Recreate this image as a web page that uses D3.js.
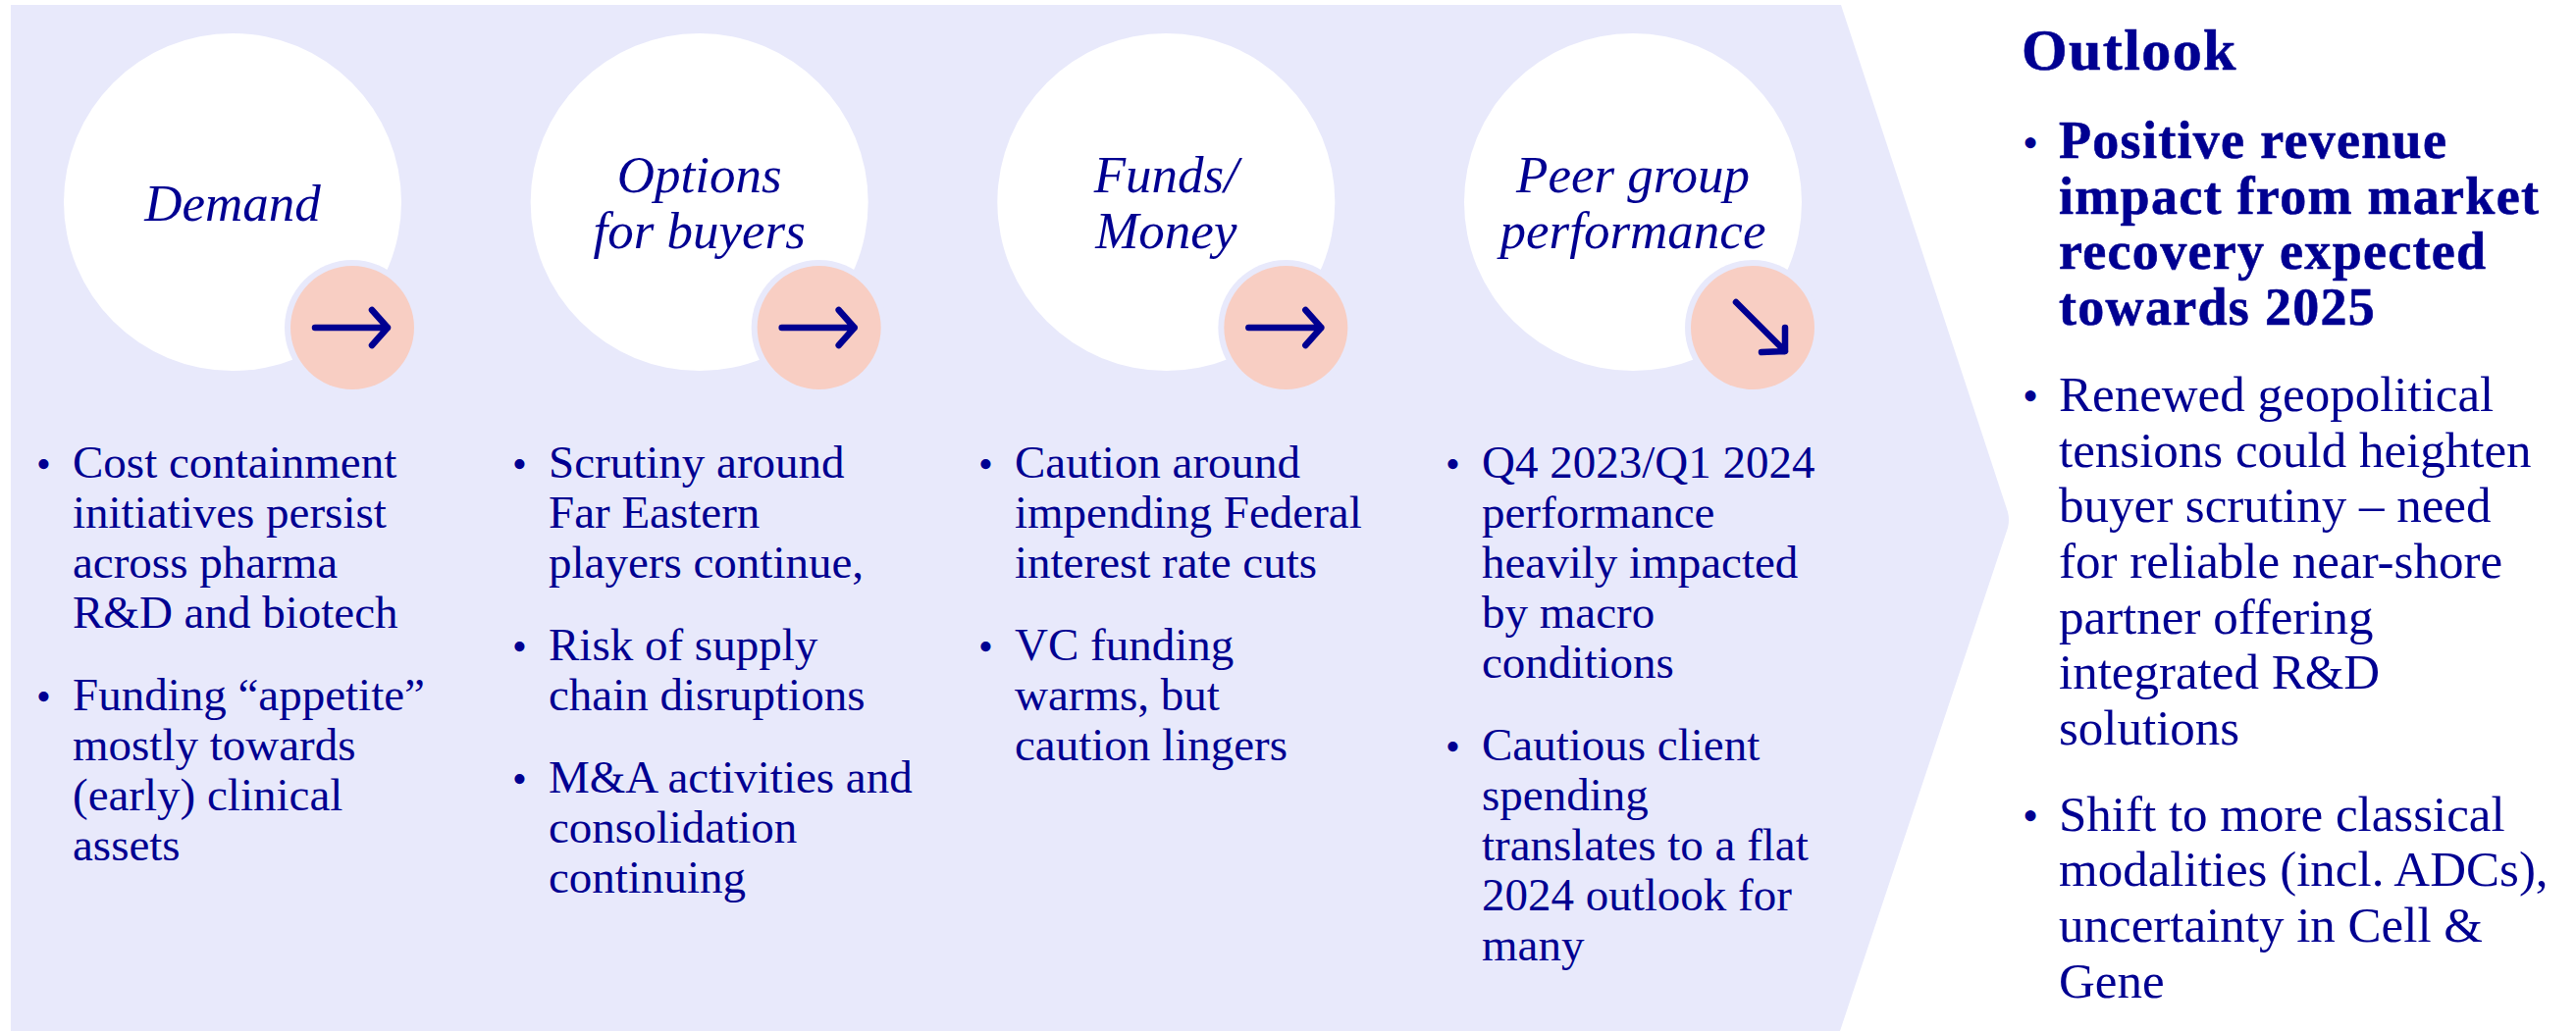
<!DOCTYPE html>
<html>
<head>
<meta charset="utf-8">
<script src="https://cdn.jsdelivr.net/npm/d3@7"></script>
<style>
 body { margin: 0; background: #fff; }
 svg { display: block; }
 text { font-family: "Liberation Serif", serif; fill: #000091; }
</style>
</head>
<body>
<div id="chart"></div>
<script type="text/javascript">
 var categories = ["Demand", "Options|for buyers", "Funds/|Money", "Peer group|performance"];
 var trends = ["flat", "flat", "flat", "down"];
 var columnBullets = [
   [["Cost containment", "initiatives persist", "across pharma", "R&D and biotech"],
    ["Funding “appetite”", "mostly towards", "(early) clinical", "assets"]],
   [["Scrutiny around", "Far Eastern", "players continue,"],
    ["Risk of supply", "chain disruptions"],
    ["M&A activities and", "consolidation", "continuing"]],
   [["Caution around", "impending Federal", "interest rate cuts"],
    ["VC funding", "warms, but", "caution lingers"]],
   [["Q4 2023/Q1 2024", "performance", "heavily impacted", "by macro", "conditions"],
    ["Cautious client", "spending", "translates to a flat", "2024 outlook for", "many"]]
 ];
 var outlookTitle = "Outlook";
 var outlookBullets = [
   ["Positive revenue", "impact from market", "recovery expected", "towards 2025"],
   ["Renewed geopolitical", "tensions could heighten", "buyer scrutiny – need", "for reliable near-shore", "partner offering", "integrated R&D", "solutions"],
   ["Shift to more classical", "modalities (incl. ADCs),", "uncertainty in Cell &", "Gene"]
 ];

 var props = {
   width: 2625, height: 1051,
   bodySize: 47, lineStep: 51, paraGap: 33, bodyTop: 487,
   outSize: 51, outStep: 56.7, outGap: 31, outTop: 161,
   circleR: 172, circleY: 206, badgeR: 63, badgeDx: 122, badgeDy: 128
 };
 var textX = [74, 559, 1034, 1510];

 var svg = d3.select("#chart").append("svg").attr("width", props.width).attr("height", props.height);

 // chevron panel
 svg.append("path")
   .attr("d", "M11,5 L1876,5 L2046,522 Q2048,530 2046,538 L1875,1051 L11,1051 Z")
   .style("fill", "#E8E9FB");

 var x = d3.scalePoint().domain(categories).range([237, 1664]);

 var col = svg.selectAll(".col").data(categories).enter().append("g").attr("class", "col");

 col.append("circle").attr("cx", function(d){ return x(d); }).attr("cy", props.circleY).attr("r", props.circleR).style("fill", "#fff");
 col.append("circle").attr("cx", function(d){ return x(d) + props.badgeDx; }).attr("cy", props.circleY + props.badgeDy).attr("r", props.badgeR + 6).style("fill", "#E8E9FB");
 col.append("circle").attr("cx", function(d){ return x(d) + props.badgeDx; }).attr("cy", props.circleY + props.badgeDy).attr("r", props.badgeR).style("fill", "#F8CEC3");

 // arrows in the badges
 var arrowPaths = {
   flat: "M-38,0 L36,0 M20,-18 L36,0 L20,18",
   down: "M-17,-26 L33,24 M33,0 L33,24 L9,25"
 };
 col.append("path")
   .attr("transform", function(d){ return "translate(" + (x(d) + props.badgeDx) + "," + (props.circleY + props.badgeDy) + ")"; })
   .attr("d", function(d, i){ return arrowPaths[trends[i]]; })
   .style("fill", "none").style("stroke", "#000091").style("stroke-width", 6.5)
   .style("stroke-linecap", "round").style("stroke-linejoin", "round");

 // circle titles
 col.each(function(d){
   var lines = d.split("|");
   var top = lines.length == 1 ? 225 : 196;
   d3.select(this).selectAll(".title").data(lines).enter().append("text")
     .attr("class", "title")
     .attr("x", x(d))
     .attr("y", function(l, i){ return top + i * 57; })
     .attr("text-anchor", "middle")
     .style("font-style", "italic")
     .style("font-size", "53px")
     .text(function(l){ return l; });
 });

 function drawBullets(g, bullets, left, top, step, gap, size, boldFirst){
   var y = top;
   bullets.forEach(function(lines, b){
     var bold = boldFirst && b == 0;
     g.append("text").attr("x", left - 37).attr("y", y).style("font-size", (size * 0.9) + "px").text("•");
     lines.forEach(function(line){
       g.append("text").attr("x", left).attr("y", y)
         .style("font-size", (bold ? 54 : size) + "px")
         .style("font-weight", bold ? "bold" : "normal")
         .style("letter-spacing", bold ? "1.3px" : null)
         .style("stroke", bold ? "#000091" : null)
         .style("stroke-width", bold ? 0.6 : null)
         .text(line);
       y += step;
     });
     y += gap;
   });
 }

 columnBullets.forEach(function(bullets, i){
   drawBullets(svg.append("g"), bullets, textX[i], props.bodyTop, props.lineStep, props.paraGap, props.bodySize);
 });

 svg.append("text").attr("x", 2060).attr("y", 71).style("font-size", "60px").style("font-weight", "bold")
   .style("letter-spacing", "1.4px").style("stroke", "#000091").style("stroke-width", 0.6).text(outlookTitle);
 drawBullets(svg.append("g"), outlookBullets, 2098, props.outTop, props.outStep, props.outGap, props.outSize, true);
</script>
</body>
</html>
